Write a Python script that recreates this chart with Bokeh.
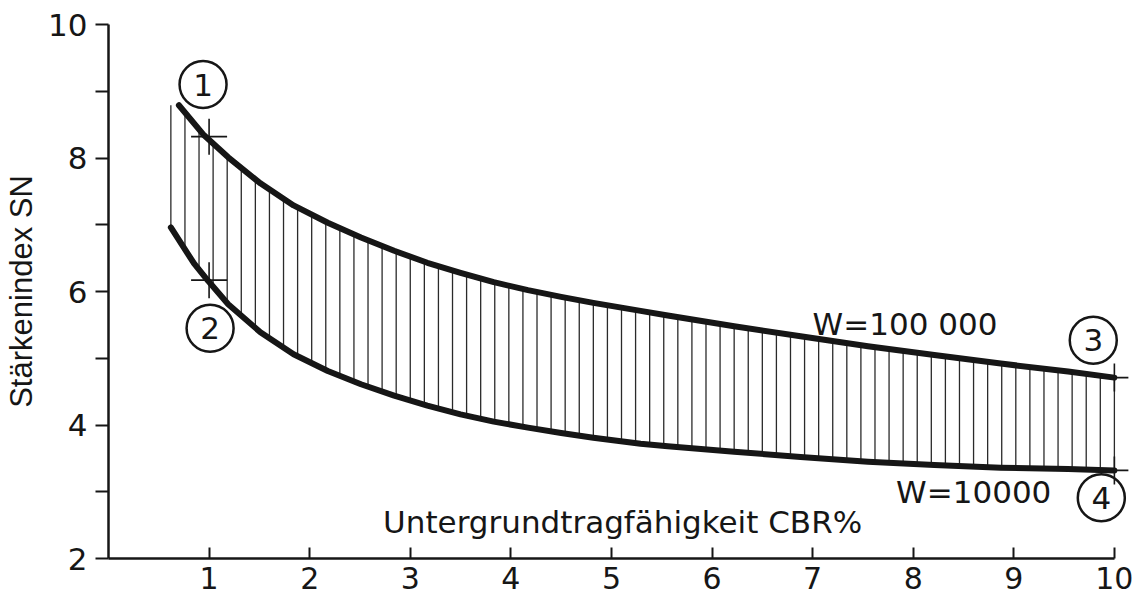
import numpy as np
from bokeh.plotting import figure
from bokeh.models import FixedTicker, Label, Range1d
from bokeh.embed import file_html
from bokeh.resources import INLINE
from bokeh.core.properties import value

# ---- data ----
cbr_hi = [0.70, 0.95, 1.19, 1.51, 1.84, 2.18, 2.51, 2.84, 3.17, 3.50, 3.83, 4.17,
          4.50, 4.82, 5.29, 5.56, 6.22, 6.88, 7.55, 8.21, 8.87, 9.54, 10.0]
sn_hi = [8.79, 8.34, 8.01, 7.62, 7.29, 7.03, 6.81, 6.61, 6.43, 6.28, 6.14, 6.02,
         5.92, 5.83, 5.71, 5.64, 5.48, 5.33, 5.18, 5.05, 4.92, 4.80, 4.71]
cbr_lo = [0.62, 0.85, 0.99, 1.19, 1.51, 1.84, 2.18, 2.51, 2.84, 3.17, 3.50, 3.83,
          4.17, 4.50, 4.82, 5.29, 5.56, 6.22, 6.88, 7.55, 8.21, 8.87, 9.54, 10.0]
sn_lo = [6.96, 6.42, 6.16, 5.81, 5.39, 5.06, 4.81, 4.61, 4.44, 4.29, 4.16, 4.05,
         3.96, 3.88, 3.81, 3.72, 3.68, 3.60, 3.52, 3.45, 3.40, 3.36, 3.34, 3.32]

series_labels = ["W=100 000", "W=10000"]
point_ids = ["1", "2", "3", "4"]
point_cbr = [1.0, 1.0, 10.0, 10.0]
point_sn = [8.32, 6.17, 4.71, 3.32]

x_ticks = [1, 2, 3, 4, 5, 6, 7, 8, 9, 10]
y_ticks = [2, 3, 4, 5, 6, 7, 8, 9, 10]
y_tick_labels = {t: (str(t) if t % 2 == 0 else "") for t in y_ticks}

x_title = "Untergrundtragfähigkeit CBR%"
y_title = "Stärkenindex SN"

# ---- layout constants ----
label_pos_x = [7.0, 7.83]
label_pos_y = [5.52, 2.99]
circle_pos_x = [0.94, 1.01, 9.79, 9.87]
circle_pos_y = [9.10, 5.45, 5.27, 2.91]

INK = "#161616"
FONT = "DejaVu Sans"

p = figure(width=1134, height=603, x_range=Range1d(0, 10.2), y_range=Range1d(2, 10),
           output_backend="svg", toolbar_location=None,
           min_border_left=108, min_border_right=0, min_border_top=24, min_border_bottom=45)
p.outline_line_color = None
p.grid.visible = False
p.background_fill_color = "white"
p.border_fill_color = "white"

# hatching between the two curves
hx = np.linspace(0.62, 10.0, 68)
h_lo = np.interp(hx, cbr_lo, sn_lo)
h_hi = np.interp(hx, cbr_hi, sn_hi)
p.segment(hx, h_lo, hx, h_hi, line_width=1.3, line_color="#2a2a2a")

p.line(cbr_hi, sn_hi, line_width=6, line_color=INK, line_cap="round", line_join="round")
p.line(cbr_lo, sn_lo, line_width=6, line_color=INK, line_cap="round", line_join="round")

# marked points
p.scatter(point_cbr[:2], point_sn[:2], marker="cross", size=36, line_width=1.6,
          line_color=INK)
p.scatter(point_cbr[2:], point_sn[2:], marker="cross", size=28, line_width=1.6,
          line_color=INK)

# circled numbers
p.scatter(circle_pos_x, circle_pos_y, marker="circle", size=47, fill_color=None,
          line_color=INK, line_width=2.5)
p.text(circle_pos_x, circle_pos_y, text=point_ids, text_align="center",
       text_baseline="middle", text_font=value(FONT), text_font_size="31px",
       text_color=INK)

# series labels
p.text(label_pos_x, label_pos_y, text=series_labels, text_align="left",
       text_baseline="alphabetic", text_font=value(FONT), text_font_size="31px",
       text_color=INK)

# x title sits inside the plot as in the original
p.add_layout(Label(x=2.73, y=2.54, text=x_title, text_align="left",
                   text_baseline="alphabetic", text_font=FONT,
                   text_font_size="31px", text_color=INK))

# axes
xa = p.xaxis[0]
xa.ticker = FixedTicker(ticks=x_ticks)
xa.bounds = (0, 10)
xa.axis_line_width = 2.5
xa.axis_line_color = INK
xa.major_tick_in = 11
xa.major_tick_out = 0
xa.major_tick_line_width = 2
xa.major_tick_line_color = INK
xa.minor_tick_line_color = None
xa.major_label_text_font = FONT
xa.major_label_text_font_size = "30px"
xa.major_label_text_color = INK
xa.major_label_standoff = 8

ya = p.yaxis[0]
ya.ticker = FixedTicker(ticks=y_ticks)
ya.major_label_overrides = y_tick_labels
ya.bounds = (2, 10)
ya.axis_line_width = 2.5
ya.axis_line_color = INK
ya.major_tick_in = 0
ya.major_tick_out = 13
ya.major_tick_line_width = 2
ya.major_tick_line_color = INK
ya.minor_tick_line_color = None
ya.major_label_text_font = FONT
ya.major_label_text_font_size = "31px"
ya.major_label_text_color = INK
ya.major_label_standoff = 8
ya.axis_label = y_title
ya.axis_label_text_font = "Liberation Sans"
ya.axis_label_text_font_style = "normal"
ya.axis_label_text_font_size = "31px"
ya.axis_label_text_color = INK
ya.axis_label_standoff = 6

open("out.html", "w").write(file_html(p, INLINE))
